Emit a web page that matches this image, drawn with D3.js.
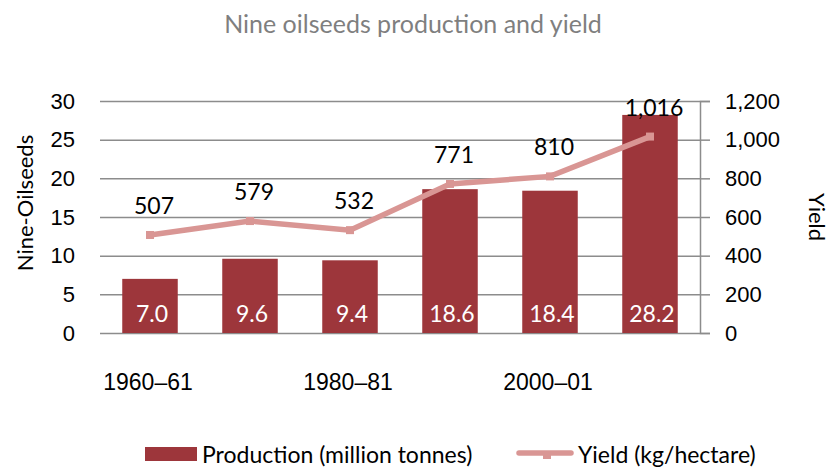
<!DOCTYPE html>
<html>
<head>
<meta charset="utf-8">
<script src="https://cdn.jsdelivr.net/npm/d3@7"></script>
<style>
  body { margin: 0; background: #fff; }
  svg { font-family: Lato, "Open Sans", sans-serif; }
  .grid line { stroke: #8c8c8c; stroke-width: 1.5; }
  .grid .domain { display: none; }
</style>
</head>
<body>
<svg id="chart" width="833" height="467"></svg>
<script>
const width = 833, height = 467;
const categories = ["1960–61", "1970–71", "1980–81", "1990–91", "2000–01", "2010–11"];
const production = [7.0, 9.6, 9.4, 18.6, 18.4, 28.2];
const yieldKg = [507, 579, 532, 771, 810, 1016];
const leftTicks = [0, 5, 10, 15, 20, 25, 30];
const rightTicks = [0, 200, 400, 600, 800, 1000, 1200];
const tickLabels = ["1960–61", "1980–81", "2000–01"];

const barColor = "#9d363b", lineColor = "#d99694";
const svg = d3.select("#chart");

const x = d3.scaleBand().domain(categories).range([100, 700]).paddingInner(0.445).paddingOuter(0.2225);
const y0 = d3.scaleLinear().domain([0, 30]).range([333, 101]);
const y1 = d3.scaleLinear().domain([0, 1200]).range([333, 101]);

// title
svg.append("text")
  .attr("x", 413).attr("y", 33)
  .attr("text-anchor", "middle")
  .style("font-size", "25px")
  .attr("fill", "#7f7f7f")
  .text("Nine oilseeds production and yield");

// left axis with gridlines
const left = svg.append("g")
  .attr("class", "grid")
  .attr("transform", "translate(100,0)")
  .call(d3.axisLeft(y0).tickValues(leftTicks).tickSize(-600).tickPadding(25));
left.selectAll("text").style("font-size", "22px").attr("fill", "#000");

// right axis
const right = svg.append("g")
  .attr("transform", "translate(700,0)")
  .call(d3.axisRight(y1).tickValues(rightTicks).tickSize(10).tickPadding(15).tickFormat(d3.format(",")));
right.selectAll("line, path").attr("stroke", "#8c8c8c").attr("stroke-width", 1.5);
right.selectAll("text").style("font-size", "22px").attr("fill", "#000");

// bottom labels
const bottom = svg.append("g")
  .attr("transform", "translate(-2,333)")
  .call(d3.axisBottom(x).tickValues(tickLabels).tickSize(0).tickPadding(41));
bottom.select(".domain").remove();
bottom.selectAll("text").style("font-size", "23px").attr("fill", "#000");

// axis titles
svg.append("text")
  .attr("transform", "translate(33,203) rotate(-90)")
  .attr("text-anchor", "middle")
  .style("font-size", "22px")
  .text("Nine-Oilseeds");
svg.append("text")
  .attr("transform", "translate(809,217) rotate(90)")
  .attr("text-anchor", "middle")
  .style("font-size", "22px")
  .text("Yield");

// bars
svg.append("g").selectAll("rect")
  .data(categories)
  .join("rect")
  .attr("x", d => x(d))
  .attr("y", (d, i) => y0(production[i]))
  .attr("width", x.bandwidth())
  .attr("height", (d, i) => y0(0) - y0(production[i]))
  .attr("fill", barColor);

svg.append("g").selectAll("text")
  .data(categories)
  .join("text")
  .attr("x", d => x(d) + x.bandwidth() / 2 + 2)
  .attr("y", y0(0) - 11)
  .attr("text-anchor", "middle")
  .attr("fill", "#fff")
  .style("font-size", "23px")
  .text((d, i) => production[i].toFixed(1));

// yield line
const line = d3.line()
  .x(d => x(d) + x.bandwidth() / 2)
  .y((d, i) => y1(yieldKg[i]));
svg.append("path")
  .datum(categories)
  .attr("d", line)
  .attr("fill", "none")
  .attr("stroke", lineColor)
  .attr("stroke-width", 5.5);

svg.append("g").selectAll("rect")
  .data(categories)
  .join("rect")
  .attr("x", d => x(d) + x.bandwidth() / 2 - 4)
  .attr("y", (d, i) => y1(yieldKg[i]) - 4)
  .attr("width", 8).attr("height", 8)
  .attr("fill", lineColor);

svg.append("g").selectAll("text")
  .data(categories)
  .join("text")
  .attr("x", d => x(d) + x.bandwidth() / 2 + 4)
  .attr("y", (d, i) => y1(yieldKg[i]) - 21)
  .attr("text-anchor", "middle")
  .style("font-size", "23px")
  .text((d, i) => d3.format(",")(yieldKg[i]));

// legend
const legend = svg.append("g");
legend.append("rect")
  .attr("x", 145).attr("y", 447).attr("width", 52).attr("height", 14)
  .attr("fill", barColor);
legend.append("text")
  .attr("x", 202).attr("y", 463)
  .style("font-size", "23px")
  .text("Production (million tonnes)");
legend.append("line")
  .attr("x1", 519).attr("x2", 571).attr("y1", 453).attr("y2", 453)
  .attr("stroke", lineColor).attr("stroke-width", 5.5).attr("stroke-linecap", "round");
legend.append("rect")
  .attr("x", 543).attr("y", 451).attr("width", 8).attr("height", 8)
  .attr("fill", lineColor);
legend.append("text")
  .attr("x", 578).attr("y", 463)
  .style("font-size", "23px")
  .text("Yield (kg/hectare)");
</script>
</body>
</html>
